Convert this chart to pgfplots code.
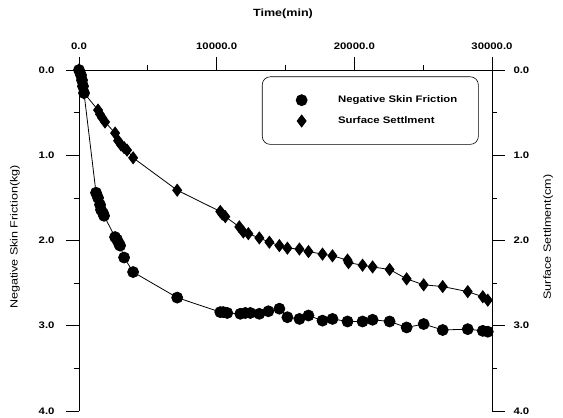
\documentclass[border=0pt]{standalone}
\usepackage{fontspec}
\setmainfont{Liberation Sans}[FakeStretch=1.2]
\usepackage{pgfplots}
\pgfplotsset{compat=1.18}
\usepackage{pgfplotstable}

\pgfplotstableread{
t v
0 0
146 0.06
220 0.12
290 0.19
364 0.27
1237 1.44
1383 1.50
1528 1.58
1601 1.64
1747 1.68
1820 1.71
2620 1.96
2766 1.99
2911 2.04
2984 2.06
3275 2.20
3930 2.37
7132 2.67
10262 2.84
10480 2.84
10770 2.85
11717 2.86
12081 2.85
12445 2.85
13100 2.86
13755 2.83
14556 2.80
15138 2.90
16012 2.92
16667 2.88
17686 2.94
18413 2.92
19505 2.95
20597 2.95
21325 2.93
22562 2.95
23799 3.02
25036 2.98
26419 3.05
28238 3.04
29330 3.06
29694 3.07
}\friction

\pgfplotstableread{
t v
0 0
146 0.07
290 0.16
364 0.27
1383 0.47
1528 0.52
1674 0.56
1892 0.61
2620 0.74
2838 0.83
3057 0.88
3275 0.91
3493 0.94
3930 1.03
7132 1.41
10262 1.66
10408 1.69
10626 1.72
11645 1.84
11936 1.90
12300 1.92
13100 1.97
13828 2.02
14556 2.06
15138 2.09
16012 2.10
16667 2.13
17686 2.16
18413 2.18
19505 2.23
19578 2.26
20597 2.29
21325 2.31
22562 2.34
23799 2.45
25036 2.52
26419 2.54
28238 2.60
29330 2.66
29694 2.70
}\settle

\pgfplotsset{
  common/.style={
    scale only axis, width=413bp, height=341bp,
    xmin=0, xmax=30000, ymin=0, ymax=4, y dir=reverse,
    scaled x ticks=false,
    tick align=outside,
    major tick length=13bp, minor tick length=5bp,
    ytick={0,1,2,3,4}, yticklabels={0.0,1.0,2.0,3.0,4.0},
    minor ytick={0.5,1.5,2.5,3.5},
    tick style={black, line width=0.7bp},
    axis line style={black, line width=0.8bp},
    tick label style={font=\fontsize{9.5}{11}\selectfont\bfseries},
    every axis y label/.style={rotate=90, anchor=center},
    every axis plot/.append style={black, line width=0.8bp},
  }
}

\begin{document}
\begin{tikzpicture}
\begin{axis}[common,
  axis x line*=top, axis y line*=left,
  xtick={0,10000,20000,30000}, xticklabels={0.0,10000.0,20000.0,30000.0},
  minor xtick={5000,15000,25000},
  xticklabel style={yshift=4bp},
  yticklabel style={xshift=-8bp},
  xlabel={Time(min)},
  every axis x label/.style={at={(axis description cs:0.494,1.164)}, anchor=center},
  xlabel style={font=\fontsize{10.5}{12}\selectfont\bfseries},
  ylabel={Negative Skin Friction(kg)},
  ylabel style={at={(axis description cs:-0.155,0.51)}, font=\fontsize{10.5}{12}\selectfont},
  legend style={at={(axis description cs:0.443,0.981)}, anchor=north west,
    draw=black, line width=0.6bp, rounded corners=8bp, fill=white,
    inner xsep=19bp, inner ysep=13bp,
    font=\fontsize{9.5}{11}\selectfont\bfseries,
    legend cell align=left,
    nodes={inner sep=2bp}},
  legend image code/.code={\path (-20bp,-10bp) (34bp,10bp); \draw[#1] plot[only marks] coordinates {(0bp,0bp)};},
]
\coordinate (ll) at (axis description cs:0,0);
\coordinate (ur) at (axis description cs:1,1);
\addplot[mark=*, mark size=5.5bp] table[x=t,y=v] {\friction};
\addlegendentry{Negative Skin Friction}
\addlegendimage{black, mark=diamond*, mark size=6bp}
\addlegendentry{Surface Settlment}
\end{axis}
\begin{axis}[common,
  axis x line=none, axis y line*=right,
  yticklabel style={xshift=5bp},
  ylabel={Surface Settlment(cm)},
  ylabel style={at={(axis description cs:1.136,0.51)}, font=\fontsize{10.5}{12}\selectfont},
]
\addplot[mark=diamond*, mark size=6bp] table[x=t,y=v] {\settle};
\end{axis}
\pgfresetboundingbox
\path[use as bounding box] ([shift={(-79bp,-7bp)}]ll) rectangle ([shift={(71bp,70bp)}]ur);
\end{tikzpicture}
\end{document}
